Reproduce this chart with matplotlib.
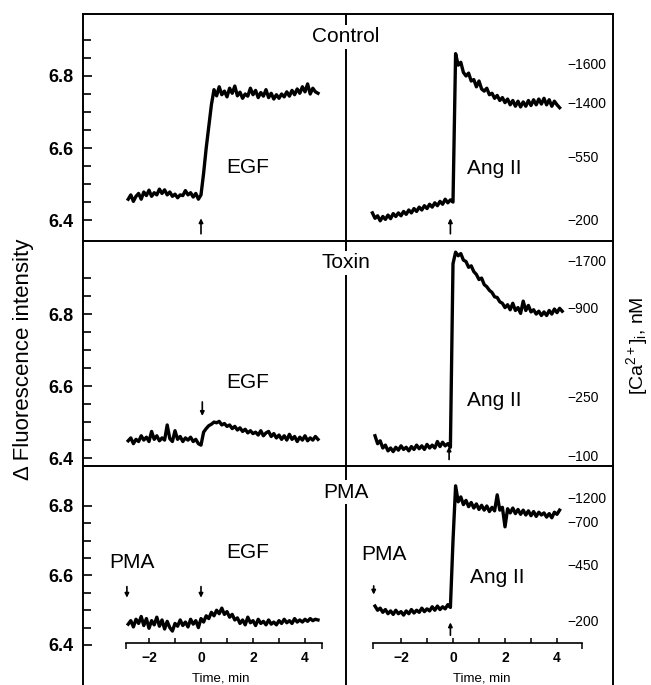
import numpy as np
import matplotlib
matplotlib.use("Agg")
import matplotlib.pyplot as plt
from matplotlib.ticker import FixedLocator, NullLocator

plt.rcParams["font.family"] = ["Liberation Sans", "DejaVu Sans"]
plt.rcParams["mathtext.fontset"] = "custom"
plt.rcParams["mathtext.rm"] = "Liberation Sans"
plt.rcParams["mathtext.it"] = "Liberation Sans:italic"

# ---- traces (fluorescence, sampled every 0.1 min) ----
control_egf_t0 = -2.8
control_egf = [
    6.458, 6.470, 6.452, 6.466, 6.474, 6.458, 6.478, 6.468, 6.483, 6.466,
    6.476, 6.470, 6.486, 6.474, 6.484, 6.470, 6.478, 6.466, 6.472, 6.462,
    6.470, 6.468, 6.482, 6.470, 6.476, 6.464, 6.474, 6.458,
    6.470, 6.530, 6.600, 6.660, 6.720, 6.762, 6.745, 6.770, 6.748, 6.758,
    6.742, 6.766, 6.752, 6.772, 6.745, 6.755, 6.738, 6.750, 6.744, 6.766,
    6.748, 6.760, 6.740, 6.754, 6.744, 6.762, 6.740, 6.752, 6.736, 6.748,
    6.738, 6.750, 6.742, 6.756, 6.744, 6.760, 6.748, 6.764, 6.752, 6.770,
    6.756, 6.778, 6.750, 6.766, 6.756, 6.752,
]
control_ang_t0 = -3.1
control_ang = [
    6.420, 6.405, 6.412, 6.398, 6.410, 6.402, 6.414, 6.404, 6.418, 6.410,
    6.420, 6.412, 6.424, 6.416, 6.428, 6.420, 6.432, 6.424, 6.436, 6.428,
    6.440, 6.432, 6.444, 6.436, 6.448, 6.440, 6.452, 6.444, 6.458, 6.448,
    6.456, 6.450,
    6.862, 6.830, 6.838, 6.810, 6.800, 6.808, 6.786, 6.790, 6.770, 6.786,
    6.764, 6.758, 6.766, 6.748, 6.752, 6.738, 6.746, 6.732, 6.740, 6.726,
    6.736, 6.720, 6.732, 6.716, 6.730, 6.714, 6.728, 6.716, 6.732, 6.718,
    6.734, 6.720, 6.736, 6.722, 6.738, 6.720, 6.734, 6.716, 6.730, 6.720,
    6.712,
]
toxin_egf_t0 = -2.8
toxin_egf = [
    6.448, 6.456, 6.440, 6.452, 6.446, 6.462, 6.450, 6.458, 6.446, 6.474,
    6.452, 6.462, 6.448, 6.456, 6.450, 6.492, 6.454, 6.446, 6.476, 6.452,
    6.460, 6.446, 6.456, 6.450, 6.458, 6.446, 6.452, 6.440,
    6.436, 6.472, 6.482, 6.490, 6.494, 6.500, 6.498, 6.502, 6.492, 6.496,
    6.488, 6.492, 6.482, 6.488, 6.478, 6.484, 6.474, 6.480, 6.470, 6.476,
    6.468, 6.472, 6.464, 6.476, 6.462, 6.470, 6.474, 6.460, 6.468, 6.456,
    6.464, 6.452, 6.462, 6.450, 6.466, 6.452, 6.460, 6.446, 6.458, 6.450,
    6.462, 6.448, 6.456, 6.450, 6.460, 6.452,
]
toxin_ang_t0 = -3.0
toxin_ang = [
    6.462, 6.440, 6.448, 6.428, 6.436, 6.420, 6.428, 6.418, 6.430, 6.422,
    6.434, 6.424, 6.430, 6.420, 6.432, 6.424, 6.436, 6.426, 6.434, 6.424,
    6.438, 6.428, 6.436, 6.428, 6.446, 6.432, 6.444, 6.434, 6.440, 6.430,
    6.940, 6.972, 6.962, 6.968, 6.950, 6.946, 6.930, 6.934, 6.918, 6.910,
    6.896, 6.900, 6.882, 6.876, 6.866, 6.860, 6.848, 6.846, 6.834, 6.830,
    6.818, 6.826, 6.812, 6.830, 6.810, 6.818, 6.802, 6.836, 6.810, 6.824,
    6.806, 6.812, 6.800, 6.808, 6.796, 6.806, 6.796, 6.810, 6.800, 6.814,
    6.804, 6.816, 6.808,
]
pma_egf_t0 = -2.8
pma_egf = [
    6.460, 6.470, 6.452, 6.474, 6.462, 6.482, 6.456, 6.476, 6.448, 6.470,
    6.458, 6.480, 6.454, 6.472, 6.446, 6.468, 6.450, 6.440, 6.462, 6.454,
    6.472, 6.456, 6.466, 6.452, 6.474, 6.460, 6.470, 6.450,
    6.476, 6.466, 6.484, 6.476, 6.494, 6.484, 6.500, 6.490, 6.506, 6.488,
    6.496, 6.480, 6.488, 6.472, 6.478, 6.462, 6.472, 6.458, 6.480, 6.464,
    6.470, 6.456, 6.474, 6.462, 6.468, 6.458, 6.472, 6.460, 6.466, 6.458,
    6.470, 6.462, 6.474, 6.464, 6.470, 6.462, 6.476, 6.466, 6.472, 6.466,
    6.474, 6.468, 6.476, 6.470, 6.474, 6.472,
]
pma_ang_t0 = -3.0
pma_ang = [
    6.512, 6.500, 6.506, 6.494, 6.502, 6.490, 6.498, 6.488, 6.500, 6.490,
    6.496, 6.486, 6.498, 6.490, 6.502, 6.492, 6.500, 6.494, 6.506, 6.496,
    6.504, 6.498, 6.510, 6.500, 6.512, 6.502, 6.510, 6.504, 6.516, 6.508,
    6.700, 6.858, 6.812, 6.826, 6.804, 6.816, 6.798, 6.810, 6.794, 6.806,
    6.790, 6.802, 6.788, 6.800, 6.784, 6.796, 6.786, 6.832, 6.788, 6.796,
    6.740, 6.792, 6.780, 6.794, 6.778, 6.790, 6.776, 6.788, 6.774, 6.786,
    6.772, 6.784, 6.770, 6.782, 6.774, 6.780, 6.768, 6.778, 6.766, 6.782,
    6.776, 6.788,
]
sample_step = 0.1

# ---- calibration labels ([Ca2+]i, nM) on the right of each panel ----
control_cal_labels = ["1600", "1400", "550", "200"]
control_cal_values = [6.830, 6.722, 6.572, 6.397]
toxin_cal_labels = ["1700", "900", "250", "100"]
toxin_cal_values = [6.944, 6.814, 6.567, 6.403]
pma_cal_labels = ["1200", "700", "450", "200"]
pma_cal_values = [6.820, 6.751, 6.626, 6.466]

panel_titles = ["Control", "Toxin", "PMA"]
y_major = [6.4, 6.6, 6.8]
time_ticks = [-2, -1, 0, 1, 2, 3, 4]

# ---- layout (pixels of a 651 x 685 image) ----
W, H = 651, 685
fig = plt.figure(figsize=(W / 100, H / 100), dpi=100)

X_LEFT, X_MID, X_RIGHT = 83, 346, 613
PX_PER_MIN = 26.0
T0_LEFT, T0_RIGHT = 201, 453


def add_px_axes(x0, y0, x1, y1):
    return fig.add_axes([x0 / W, 1 - y1 / H, (x1 - x0) / W, (y1 - y0) / H])


panels = [
    dict(top=14, bottom=241, ylim=(6.342, 6.972), title_y=37,
         minor=[6.45, 6.5, 6.55, 6.65, 6.7, 6.75, 6.85, 6.9]),
    dict(top=241, bottom=466, ylim=(6.378, 7.003), title_y=263,
         minor=[6.45, 6.5, 6.55, 6.65, 6.7, 6.75, 6.85, 6.9]),
    dict(top=466, bottom=686, ylim=(6.282, 6.915), title_y=492,
         minor=[6.45, 6.5, 6.55, 6.65, 6.7, 6.75]),
]
traces = [
    (control_egf_t0, control_egf, control_ang_t0, control_ang),
    (toxin_egf_t0, toxin_egf, toxin_ang_t0, toxin_ang),
    (pma_egf_t0, pma_egf, pma_ang_t0, pma_ang),
]
cals = [
    (control_cal_labels, control_cal_values),
    (toxin_cal_labels, toxin_cal_values),
    (pma_cal_labels, pma_cal_values),
]

FRAME_LW = 1.4
TRACE_LW = 2.4
axes_pairs = []
for i, p in enumerate(panels):
    ax_l = add_px_axes(X_LEFT, p["top"], X_MID, p["bottom"])
    ax_r = add_px_axes(X_MID, p["top"], X_RIGHT, p["bottom"])
    ax_l.set_xlim(-(T0_LEFT - X_LEFT) / PX_PER_MIN, (X_MID - T0_LEFT) / PX_PER_MIN)
    ax_r.set_xlim(-(T0_RIGHT - X_MID) / PX_PER_MIN, (X_RIGHT - T0_RIGHT) / PX_PER_MIN)
    for ax in (ax_l, ax_r):
        ax.set_ylim(*p["ylim"])
        ax.patch.set_alpha(0)
        ax.spines["bottom"].set_visible(False)
        for s in ax.spines.values():
            s.set_linewidth(FRAME_LW)
        ax.xaxis.set_major_locator(NullLocator())
    ax_l.spines["right"].set_visible(False)
    ax_r.yaxis.set_major_locator(NullLocator())

    ax_l.yaxis.set_major_locator(FixedLocator(y_major))
    ax_l.yaxis.set_minor_locator(FixedLocator(p["minor"]))
    ax_l.set_yticklabels([f"{v:.1f}" for v in y_major], fontsize=13, fontweight="bold")
    ax_l.tick_params(axis="y", which="major", direction="in", length=6.5, width=1.2, pad=7)
    ax_l.tick_params(axis="y", which="minor", direction="in", length=5.5, width=1.2)

    t0_l, v_l, t0_r, v_r = traces[i]
    t_l = t0_l + sample_step * np.arange(len(v_l))
    t_r = t0_r + sample_step * np.arange(len(v_r))
    ax_l.plot(t_l, v_l, color="black", lw=TRACE_LW, solid_joinstyle="round")
    ax_r.plot(t_r, v_r, color="black", lw=TRACE_LW, solid_joinstyle="round")

    labels, values = cals[i]
    for lab, val in zip(labels, values):
        ax_r.text(4.4, val, "\u2212" + lab, fontsize=10, ha="left", va="center")

    fig.text(X_MID / W, 1 - p["title_y"] / H, panel_titles[i], fontsize=15,
             ha="center", va="center",
             bbox=dict(facecolor="white", edgecolor="none", pad=1.5))
    axes_pairs.append((ax_l, ax_r))


def arrow(ax, x, y_tail, y_tip):
    ax.annotate("", xy=(x, y_tip), xytext=(x, y_tail),
                arrowprops=dict(arrowstyle="-|>", lw=1.2, color="black",
                                mutation_scale=6, shrinkA=0, shrinkB=0))


# Control
a1l, a1r = axes_pairs[0]
a1l.text(1.8, 6.547, "EGF", fontsize=15, ha="center", va="center")
a1r.text(1.6, 6.544, "Ang II", fontsize=15, ha="center", va="center")
arrow(a1l, 0.0, 6.362, 6.405)
arrow(a1r, -0.1, 6.362, 6.405)

# Toxin
a2l, a2r = axes_pairs[1]
a2l.text(1.8, 6.611, "EGF", fontsize=15, ha="center", va="center")
a2r.text(1.6, 6.561, "Ang II", fontsize=15, ha="center", va="center")
arrow(a2l, 0.05, 6.556, 6.517)
arrow(a2r, -0.15, 6.396, 6.432)

# PMA
a3l, a3r = axes_pairs[2]
a3l.text(-2.65, 6.636, "PMA", fontsize=15, ha="center", va="center")
a3l.text(1.8, 6.665, "EGF", fontsize=15, ha="center", va="center")
a3r.text(-2.65, 6.659, "PMA", fontsize=15, ha="center", va="center")
a3r.text(1.7, 6.593, "Ang II", fontsize=15, ha="center", va="center")
arrow(a3l, -2.85, 6.568, 6.536)
arrow(a3l, 0.0, 6.568, 6.536)
arrow(a3r, -3.05, 6.570, 6.545)
arrow(a3r, -0.1, 6.428, 6.465)

# time axes at the bottom panel
for ax, bounds, lab_t in ((a3l, (-2.88, 4.65), 0.77), (a3r, (-3.08, 4.96), 1.1)):
    sp = ax.spines["bottom"]
    sp.set_visible(True)
    sp.set_linewidth(1.2)
    sp.set_position(("data", 6.406))
    sp.set_bounds(*bounds)
    ax.xaxis.set_major_locator(FixedLocator(time_ticks))
    ax.xaxis.set_minor_locator(FixedLocator(list(bounds)))
    ax.set_xticklabels([("\u2212%d" % -t if t < 0 else "%d" % t) if t % 2 == 0 else ""
                        for t in time_ticks], fontsize=10, fontweight="bold")
    ax.tick_params(axis="x", which="major", direction="in", length=3.5, width=1.1, pad=6)
    ax.tick_params(axis="x", which="minor", direction="out", length=4, width=1.1)
    ax.text(lab_t, 6.305, "Time, min", fontsize=9.5, ha="center", va="center")

fig.text(24 / W, 1 - 359 / H, "\u0394 Fluorescence intensity", fontsize=16,
         rotation=90, ha="center", va="center")
fig.text(637 / W, 1 - 346 / H, r"[Ca$^{\mathrm{2+}}$]$_{\mathrm{i}}$, nM", fontsize=14,
         rotation=90, ha="center", va="center")

fig.savefig("out.png", dpi=100)
